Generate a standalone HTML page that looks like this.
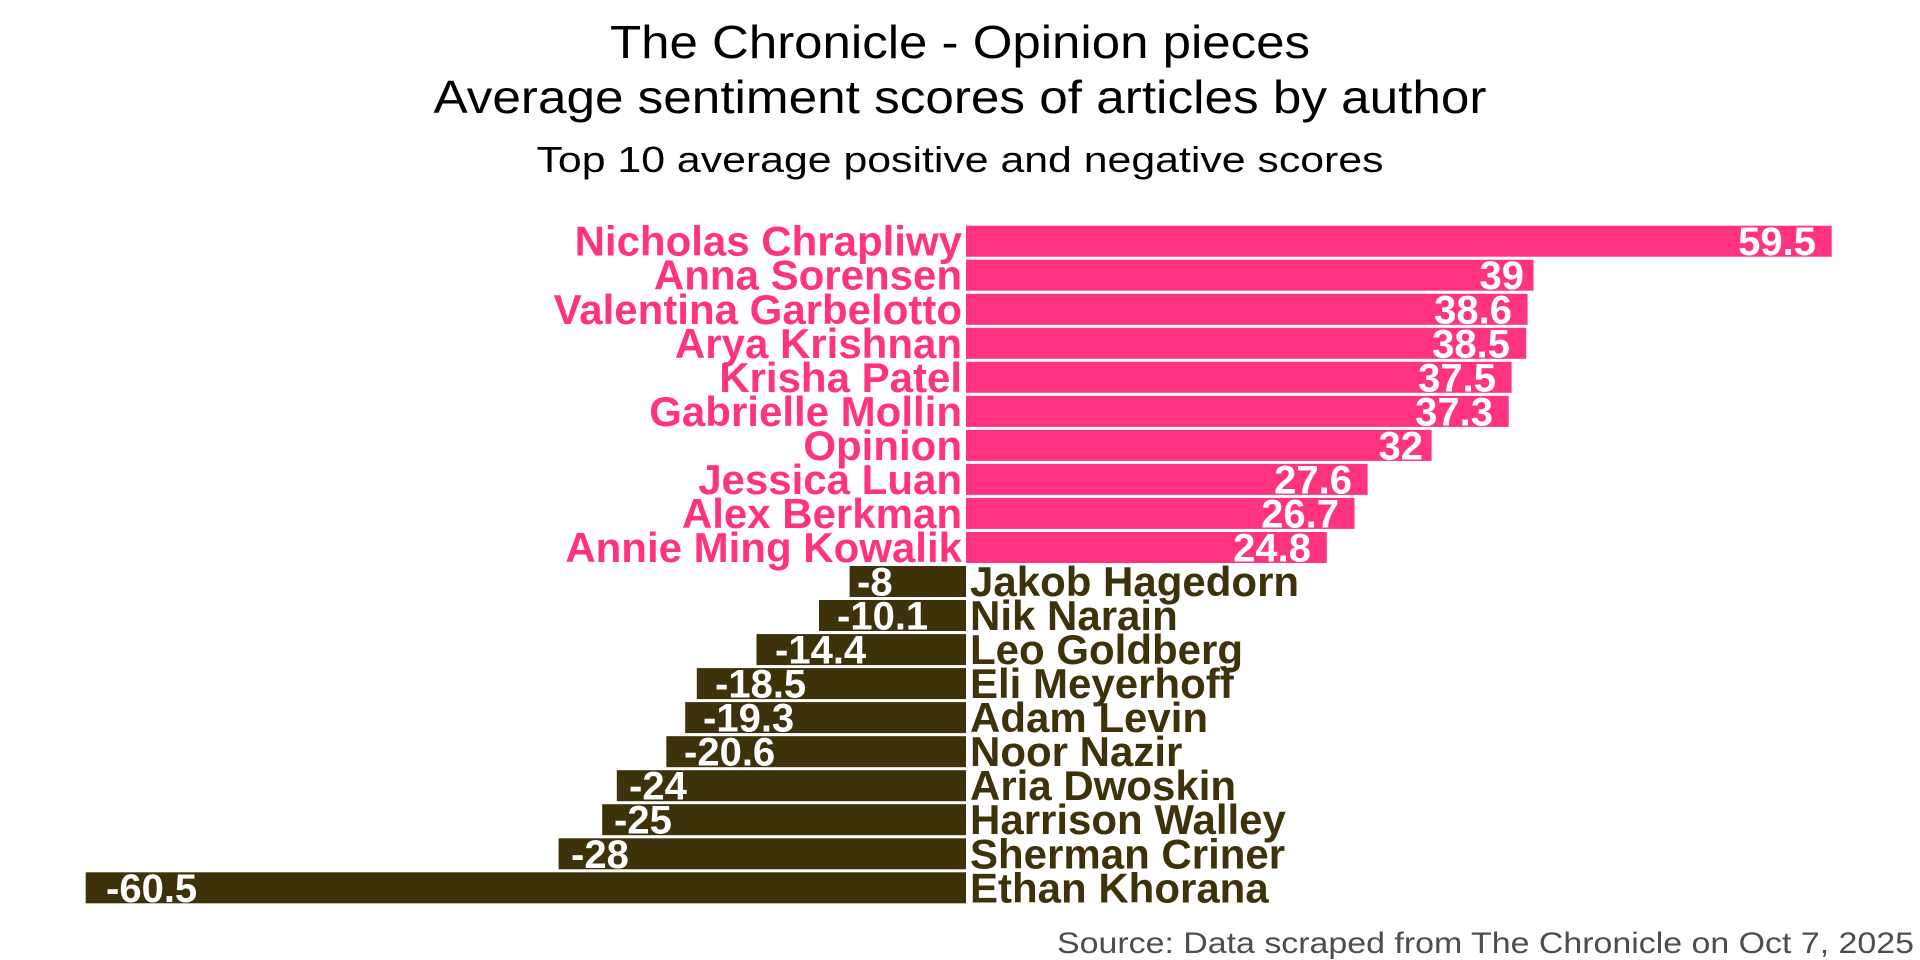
<!DOCTYPE html>
<html><head><meta charset="utf-8"><style>html,body{margin:0;padding:0;background:#fff}svg{display:block}</style></head><body>
<svg width="1920" height="960" viewBox="0 0 1920 960" xmlns="http://www.w3.org/2000/svg" font-family="Liberation Sans, Arial, sans-serif">
<text x="960" y="58" font-size="46" text-anchor="middle" textLength="700" lengthAdjust="spacingAndGlyphs">The Chronicle - Opinion pieces</text>
<text x="960" y="113" font-size="46" text-anchor="middle" textLength="1053" lengthAdjust="spacingAndGlyphs">Average sentiment scores of articles by author</text>
<text x="960" y="172" font-size="36" text-anchor="middle" textLength="847" lengthAdjust="spacingAndGlyphs">Top 10 average positive and negative scores</text>
<g fill="#FF3380">
<rect x="966" y="225.7" width="865.7" height="31"/>
<rect x="966" y="259.7" width="567.5" height="31"/>
<rect x="966" y="293.8" width="561.6" height="31"/>
<rect x="966" y="327.8" width="560.2" height="31"/>
<rect x="966" y="361.8" width="545.6" height="31"/>
<rect x="966" y="395.9" width="542.7" height="31"/>
<rect x="966" y="429.9" width="465.6" height="31"/>
<rect x="966" y="463.9" width="401.6" height="31"/>
<rect x="966" y="497.9" width="388.5" height="31"/>
<rect x="966" y="532.0" width="360.8" height="31"/>
</g>
<g fill="#3D3209">
<rect x="849.6" y="566.0" width="116.4" height="31"/>
<rect x="819" y="600.0" width="147" height="31"/>
<rect x="756.5" y="634.1" width="209.5" height="31"/>
<rect x="696.8" y="668.1" width="269.2" height="31"/>
<rect x="685.2" y="702.1" width="280.8" height="31"/>
<rect x="666.3" y="736.2" width="299.7" height="31"/>
<rect x="616.8" y="770.2" width="349.2" height="31"/>
<rect x="602.2" y="804.2" width="363.8" height="31"/>
<rect x="558.6" y="838.3" width="407.4" height="31"/>
<rect x="85.7" y="872.3" width="880.3" height="31"/>
</g>
<g fill="#FF3380" font-size="42" font-weight="bold" text-anchor="end">
<text x="962" y="255.7">Nicholas Chrapliwy</text>
<text x="962" y="289.7">Anna Sorensen</text>
<text x="962" y="323.8">Valentina Garbelotto</text>
<text x="962" y="357.8">Arya Krishnan</text>
<text x="962" y="391.8">Krisha Patel</text>
<text x="962" y="425.9">Gabrielle Mollin</text>
<text x="962" y="459.9">Opinion</text>
<text x="962" y="493.9">Jessica Luan</text>
<text x="962" y="527.9">Alex Berkman</text>
<text x="962" y="562.0">Annie Ming Kowalik</text>
</g>
<g fill="#3D3209" font-size="42" font-weight="bold">
<text x="970" y="596.0">Jakob Hagedorn</text>
<text x="970" y="630.0">Nik Narain</text>
<text x="970" y="664.1">Leo Goldberg</text>
<text x="970" y="698.1">Eli Meyerhoff</text>
<text x="970" y="732.1">Adam Levin</text>
<text x="970" y="766.2">Noor Nazir</text>
<text x="970" y="800.2">Aria Dwoskin</text>
<text x="970" y="834.2">Harrison Walley</text>
<text x="970" y="868.3">Sherman Criner</text>
<text x="970" y="902.3">Ethan Khorana</text>
</g>
<g fill="#fff" font-size="40" font-weight="bold" text-anchor="end">
<text x="1816" y="255.2">59.5</text>
<text x="1524" y="289.2">39</text>
<text x="1512" y="323.3">38.6</text>
<text x="1510" y="357.3">38.5</text>
<text x="1496" y="391.3">37.5</text>
<text x="1493" y="425.4">37.3</text>
<text x="1423" y="459.4">32</text>
<text x="1352" y="493.4">27.6</text>
<text x="1339" y="527.4">26.7</text>
<text x="1311" y="561.5">24.8</text>
</g>
<g fill="#fff" font-size="40" font-weight="bold">
<text x="857" y="595.5">-8</text>
<text x="837" y="629.5">-10.1</text>
<text x="775" y="663.6">-14.4</text>
<text x="715" y="697.6">-18.5</text>
<text x="703" y="731.6">-19.3</text>
<text x="684" y="765.7">-20.6</text>
<text x="629" y="799.7">-24</text>
<text x="614" y="833.7">-25</text>
<text x="571" y="867.8">-28</text>
<text x="106" y="901.8">-60.5</text>
</g>
<text x="1914" y="953" font-size="30" fill="#4d4d4d" text-anchor="end" textLength="857" lengthAdjust="spacingAndGlyphs">Source: Data scraped from The Chronicle on Oct 7, 2025</text>
</svg>
</body></html>
